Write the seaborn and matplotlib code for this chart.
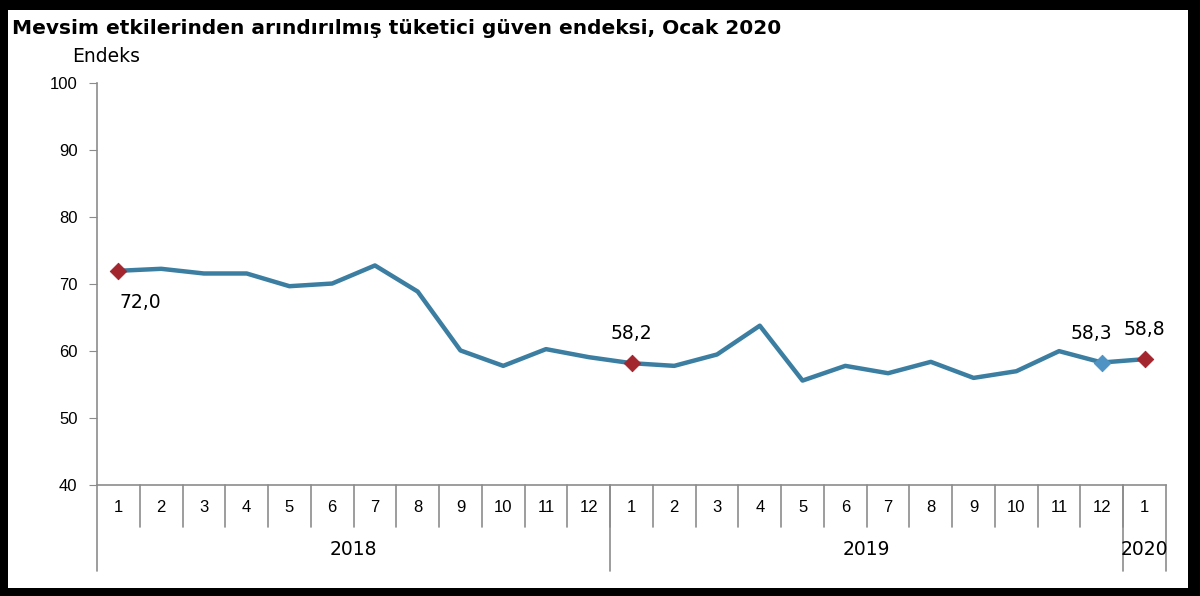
import pandas as pd
import seaborn as sns
import matplotlib.pyplot as plt
import matplotlib.transforms as mtransforms
from matplotlib.patches import Rectangle

# data
months = ['1', '2', '3', '4', '5', '6', '7', '8', '9', '10', '11', '12',
          '1', '2', '3', '4', '5', '6', '7', '8', '9', '10', '11', '12',
          '1']
years = ['2018', '2019', '2020']
year_len = [12, 12, 1]
values = [72.0, 72.3, 71.6, 71.6, 69.7, 70.1, 72.8, 68.9, 60.1, 57.8, 60.3, 59.1,
          58.2, 57.8, 59.5, 63.8, 55.6, 57.8, 56.7, 58.4, 56.0, 57.0, 60.0, 58.3,
          58.8]
label_idx = [0, 12, 23, 24]
label_txt = ['72,0', '58,2', '58,3', '58,8']
red_idx = [0, 12, 24]
blue_idx = [23]

df = pd.DataFrame({'pos': range(len(values)), 'value': values})

sns.set_style('white')
plt.rcParams['font.family'] = ['Liberation Sans', 'DejaVu Sans']
plt.rcParams['text.color'] = 'black'
plt.rcParams['ytick.labelcolor'] = 'black'
wide = ['DejaVu Sans']

line_col = '#3b7ea1'
red_col = '#a3262e'
blue_col = '#4f92c4'
axis_col = '#8c8c8c'

fig = plt.figure(figsize=(12, 5.96), dpi=100)
fig.patch.set_facecolor('black')
fig.add_artist(Rectangle((8 / 1200, 8 / 596), 1180 / 1200, 578 / 596,
                         transform=fig.transFigure, facecolor='white',
                         edgecolor='none', zorder=0))

ax = fig.add_axes([97 / 1200, 1 - 485 / 596, (1166 - 97) / 1200, (485 - 83.4) / 596])
ax.set_facecolor('none')

sns.lineplot(data=df, x='pos', y='value', color=line_col, linewidth=3.2, ax=ax)
sns.scatterplot(data=df.iloc[red_idx], x='pos', y='value', marker='D', s=70,
                color=red_col, edgecolor=red_col, zorder=5, ax=ax)
sns.scatterplot(data=df.iloc[blue_idx], x='pos', y='value', marker='D', s=70,
                color=blue_col, edgecolor=blue_col, zorder=5, ax=ax)

# value labels
for i, t in zip(label_idx, label_txt):
    if i == 0:
        ax.text(i + 0.52, values[i] - 4.7, t, ha='center', va='center',
                fontsize=13.5, family=wide)
    elif i == 23:
        ax.text(i - 0.25, values[i] + 4.4, t, ha='center', va='center',
                fontsize=13.5, family=wide)
    else:
        ax.text(i, values[i] + 4.5, t, ha='center', va='center',
                fontsize=13.5, family=wide)

ax.set_xlim(-0.5, len(values) - 0.5)
ax.set_ylim(40, 100)
ax.set_yticks(range(40, 101, 10))
ax.tick_params(axis='y', length=6, color=axis_col, labelsize=12, pad=8, left=True,
               labelcolor='black')
ax.set_xticks([])
ax.set_xlabel('')
ax.set_ylabel('')
for s in ['top', 'right']:
    ax.spines[s].set_visible(False)
for s in ['left', 'bottom']:
    ax.spines[s].set_color(axis_col)
    ax.spines[s].set_linewidth(1.2)

# category axis with month and year levels
trans = mtransforms.blended_transform_factory(ax.transData, ax.transAxes)
for i, m in enumerate(months):
    ax.text(i, -0.057, m, transform=trans, ha='center', va='center', fontsize=12)
for i in range(1, len(months)):
    ax.plot([i - 0.5, i - 0.5], [0, -0.105], transform=trans, color=axis_col,
            lw=1.2, clip_on=False)
start = 0
bounds = [-0.5]
for y, n in zip(years, year_len):
    ax.text(start + (n - 1) / 2, -0.16, y, transform=trans, ha='center',
            va='center', fontsize=13.5, family=wide)
    start += n
    bounds.append(start - 0.5)
for b in bounds:
    ax.plot([b, b], [0, -0.215], transform=trans, color=axis_col, lw=1.2,
            clip_on=False)

fig.text(12 / 1200, 1 - 28 / 596,
         'Mevsim etkilerinden arındırılmış tüketici güven endeksi, Ocak 2020',
         fontsize=14.5, fontweight='bold', va='center', ha='left', family=wide)
fig.text(72 / 1200, 1 - 57 / 596, 'Endeks', fontsize=13.5, va='center',
         ha='left', family=wide)

fig.savefig('out.png', dpi=100, facecolor=fig.get_facecolor())
